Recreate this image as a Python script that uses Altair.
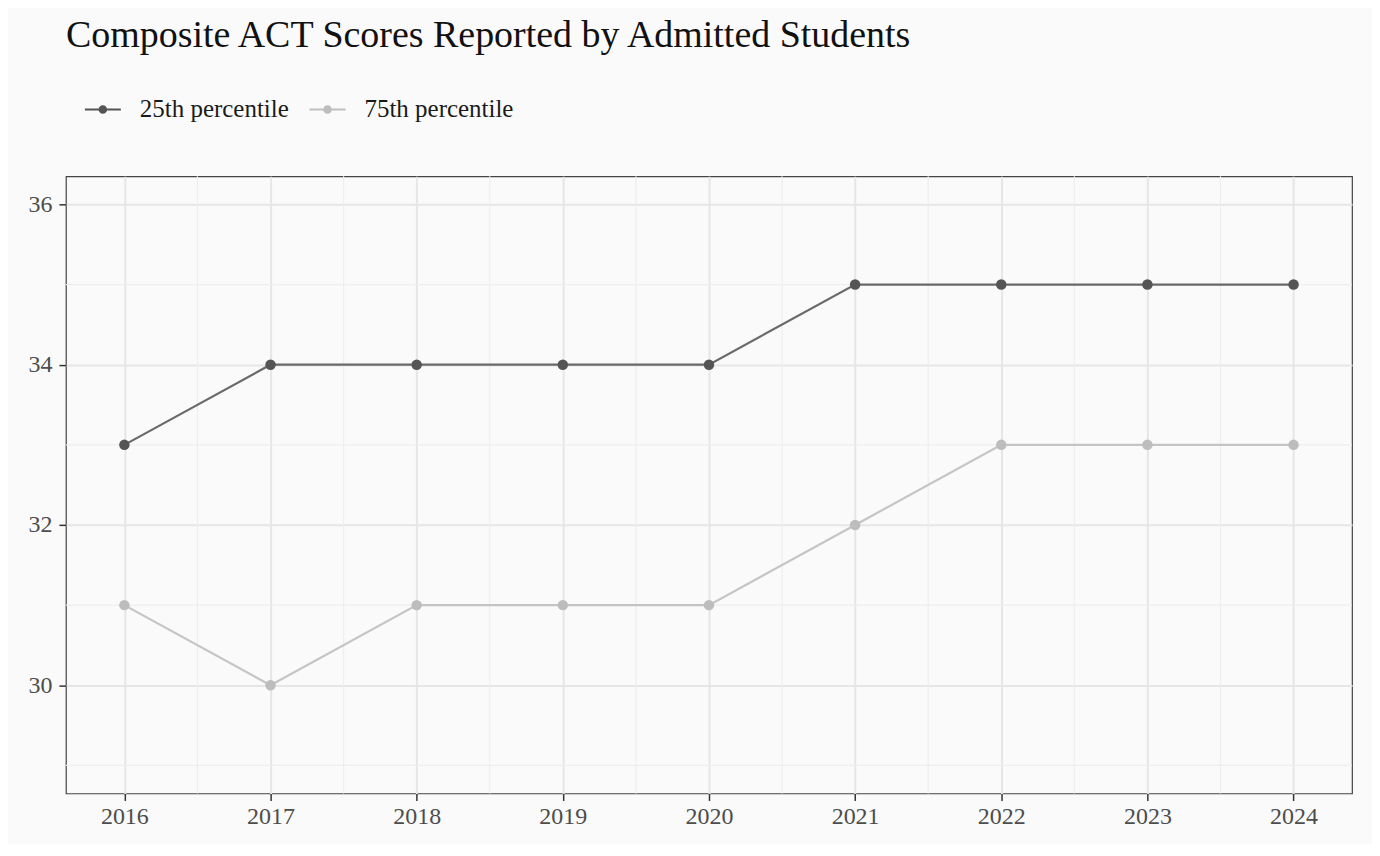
import altair as alt
import pandas as pd

years = [2016, 2017, 2018, 2019, 2020, 2021, 2022, 2023, 2024]
p25 = [33, 34, 34, 34, 34, 35, 35, 35, 35]
p75 = [31, 30, 31, 31, 31, 32, 33, 33, 33]
series_names = ["25th percentile", "75th percentile"]
series_colors = ["#555555", "#bdbdbd"]
y_major = [30, 32, 34, 36]
y_minor = [29, 31, 33, 35]
x_minor = [y + 0.5 for y in years[:-1]]

df = pd.DataFrame(
    {"year": years * 2,
     "score": p25 + p75,
     "series": [series_names[0]] * len(years) + [series_names[1]] * len(years)}
)

FONT = "Palatino Linotype, Palatino, Liberation Serif, serif"
xdom = [2015.6, 2024.4]
ydom = [28.65, 36.35]

xs = alt.Scale(domain=xdom, nice=False, zero=False)
ys = alt.Scale(domain=ydom, nice=False, zero=False)
cs = alt.Scale(domain=series_names, range=series_colors)

sym = ("M-1,-0.06L1,-0.06L1,0.06L-1,0.06Z "
       "M0.24,0A0.24,0.24 0 1,1 -0.24,0A0.24,0.24 0 1,1 0.24,0Z")

xaxis = alt.Axis(values=years, format="d", grid=True, labelPadding=4)
yaxis = alt.Axis(values=y_major, format="d", grid=True, labelPadding=7)

X = alt.X("year:Q", scale=xs, title=None, axis=xaxis)
Y = alt.Y("score:Q", scale=ys, title=None, axis=yaxis)

legend = alt.Legend(
    title=None, orient="none", direction="horizontal",
    legendX=19, legendY=-85, padding=0,
    symbolType=sym, symbolSize=1296, symbolStrokeWidth=0,
    symbolOpacity=1,
    labelFont=FONT, labelFontSize=25, labelColor="#1a1a1a",
    labelOffset=19, columnPadding=20,
)
C = alt.Color("series:N", scale=cs, legend=legend)

minor_x = alt.Chart(pd.DataFrame({"year": x_minor})).mark_rule(
    color="#eeeeee", strokeWidth=1.2
).encode(x=X)

minor_y = alt.Chart(pd.DataFrame({"score": y_minor})).mark_rule(
    color="#eeeeee", strokeWidth=1.2
).encode(y=Y)

lines = alt.Chart(df).mark_line(strokeWidth=2.2, opacity=0.88).encode(
    x=X, y=Y, color=C,
)

points = alt.Chart(df).mark_point(filled=True, size=110, opacity=1).encode(
    x=X, y=Y, color=C,
)

chart = alt.layer(minor_x, minor_y, lines, points).properties(
    width=1288, height=618,
    background="#fafafa",
    autosize=alt.AutoSizeParams(type="none"),
    padding={"left": 58, "top": 168, "right": 20, "bottom": 50},
    title=alt.Title(
        "Composite ACT Scores Reported by Admitted Students",
        anchor="start", frame="group", font=FONT, fontSize=38,
        fontWeight="normal", color="#111111", baseline="alphabetic",
        offset=7,
    ),
).configure_view(
    stroke="#444444", strokeWidth=1.2, fill="#fafafa"
).configure_axis(
    domain=False,
    gridColor="#e6e6e6", gridWidth=2,
    tickColor="#333333", tickSize=7, tickWidth=1.5,
    labelFont=FONT, labelFontSize=24, labelColor="#4d4d4d",
)

chart.save("out.html", embed_options={"renderer": "svg", "actions": False})
